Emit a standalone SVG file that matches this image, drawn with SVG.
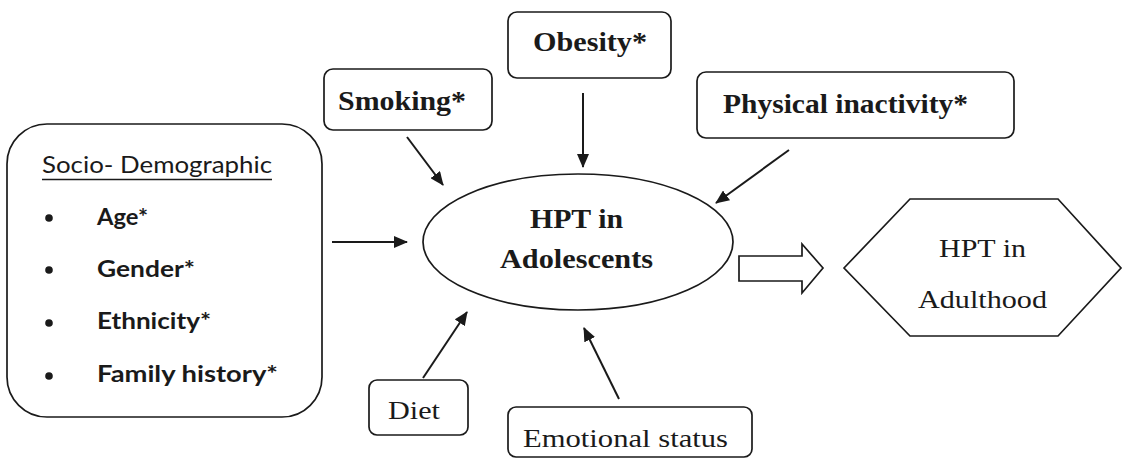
<svg xmlns="http://www.w3.org/2000/svg" width="1123" height="459" viewBox="0 0 1123 459">
  <defs>
    <style>
      .box { fill: none; stroke: #1a1a1a; stroke-width: 1.7; }
      .conn { stroke: #1a1a1a; stroke-width: 2; fill: none; marker-end: url(#arrow); }
      .tb { font-family: "Liberation Serif", "Times New Roman", serif; font-weight: bold; font-size: 28px; fill: #1a1a1a; }
      .tr { font-family: "Liberation Serif", "Times New Roman", serif; font-size: 26px; fill: #1a1a1a; }
      .sans { font-family: Lato, "Liberation Sans", sans-serif; font-size: 23px; fill: #1a1a1a; }
      .sansb { font-family: Lato, "Liberation Sans", sans-serif; font-weight: bold; font-size: 23px; fill: #1a1a1a; }
    </style>
    <marker id="arrow" markerUnits="userSpaceOnUse" markerWidth="14" markerHeight="12" refX="13" refY="6" orient="auto">
      <path d="M0,0 L14,6 L0,12 z" fill="#1a1a1a"/>
    </marker>
  </defs>
  <rect width="1123" height="459" fill="#ffffff"/>

  <g id="socio-demographic">
    <rect class="box" x="7" y="124" width="315" height="293" rx="40" ry="40"/>
    <text class="sans" x="42" y="173" textLength="230" lengthAdjust="spacingAndGlyphs">Socio- Demographic</text>
    <line x1="42" y1="179.5" x2="272" y2="179.5" stroke="#1a1a1a" stroke-width="1.5"/>
    <circle cx="49" cy="218" r="3.8" fill="#1a1a1a"/>
    <circle cx="49" cy="270" r="3.8" fill="#1a1a1a"/>
    <circle cx="49" cy="323" r="3.8" fill="#1a1a1a"/>
    <circle cx="49" cy="376" r="3.8" fill="#1a1a1a"/>
    <text class="sansb" x="97" y="225" textLength="51" lengthAdjust="spacingAndGlyphs">Age*</text>
    <text class="sansb" x="97" y="277" textLength="98" lengthAdjust="spacingAndGlyphs">Gender*</text>
    <text class="sansb" x="97" y="329" textLength="114" lengthAdjust="spacingAndGlyphs">Ethnicity*</text>
    <text class="sansb" x="97" y="382" textLength="181" lengthAdjust="spacingAndGlyphs">Family history*</text>
  </g>

  <g id="smoking">
    <rect class="box" x="324" y="69" width="168" height="61" rx="9" ry="9"/>
    <text class="tb" x="338" y="110" textLength="128" lengthAdjust="spacingAndGlyphs">Smoking*</text>
  </g>

  <g id="obesity">
    <rect class="box" x="508" y="12" width="163" height="66" rx="9" ry="9"/>
    <text class="tb" x="533" y="51" textLength="114" lengthAdjust="spacingAndGlyphs">Obesity*</text>
  </g>

  <g id="physical-inactivity">
    <rect class="box" x="697" y="72" width="317" height="66" rx="9" ry="9"/>
    <text class="tb" x="723" y="113" textLength="245" lengthAdjust="spacingAndGlyphs">Physical inactivity*</text>
  </g>

  <g id="hpt-adolescents">
    <ellipse class="box" cx="578" cy="242" rx="155" ry="68"/>
    <text class="tb" x="530" y="228" textLength="93" lengthAdjust="spacingAndGlyphs">HPT in</text>
    <text class="tb" x="500" y="268" textLength="153" lengthAdjust="spacingAndGlyphs">Adolescents</text>
  </g>

  <g id="diet">
    <rect class="box" x="369" y="380" width="99" height="55" rx="8" ry="8"/>
    <text class="tr" x="388" y="419" textLength="52" lengthAdjust="spacingAndGlyphs">Diet</text>
  </g>

  <g id="emotional-status">
    <rect class="box" x="508" y="407" width="244" height="50" rx="8" ry="8"/>
    <text class="tr" x="523" y="447" textLength="205" lengthAdjust="spacingAndGlyphs">Emotional status</text>
  </g>

  <g id="hpt-adulthood">
    <polygon class="box" points="844,268 910,199 1058,199 1121,268 1058,336 910,336"/>
    <text class="tr" x="939" y="257" textLength="87" lengthAdjust="spacingAndGlyphs">HPT in</text>
    <text class="tr" x="918" y="308" textLength="129" lengthAdjust="spacingAndGlyphs">Adulthood</text>
  </g>

  <g id="connectors">
    <line class="conn" x1="332" y1="242" x2="407" y2="242"/>
    <line class="conn" x1="407" y1="137" x2="443" y2="185"/>
    <line class="conn" x1="583" y1="93" x2="583" y2="167"/>
    <line class="conn" x1="789" y1="150" x2="716" y2="203"/>
    <line class="conn" x1="423" y1="378" x2="467" y2="312"/>
    <line class="conn" x1="619" y1="399" x2="584" y2="328"/>
    <polygon class="box" points="739,256 802,256 802,244 823,268 802,293 802,281 739,281"/>
  </g>
</svg>
